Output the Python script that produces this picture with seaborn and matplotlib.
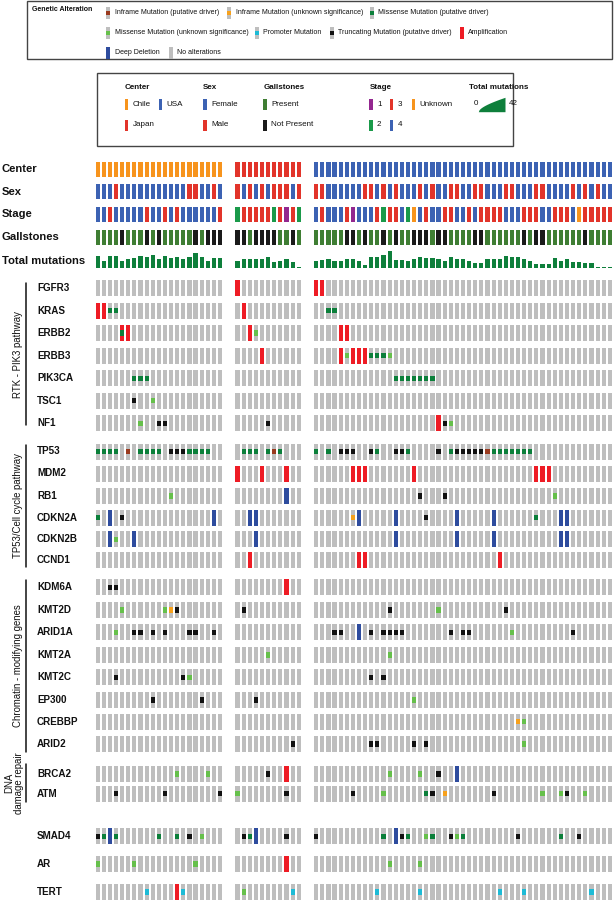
import numpy as np
import pandas as pd
import matplotlib
matplotlib.use("Agg")
import matplotlib.pyplot as plt
from matplotlib.patches import Rectangle
import seaborn as sns

sns.set_theme(style="white")
plt.rcParams["font.family"] = ["Liberation Sans", "DejaVu Sans"]

# ---------------- data ----------------
group_names = ["Chile", "Japan", "USA"]
group_keys = ["C", "J", "U"]
group_sizes = [21, 11, 49]

# clinical tracks (one char per sample)
sex_chile = "FFFMFFFFFFFFFFFMMFFMF"
sex_japan = "MFMFMFMMMFM"
sex_usa = "MMFFFFFFMMFMFMFFFMFMFFMMFFMMFFFMMFFFMMFFFFMFMFMFF"

stage_chile = "443444443443434444443"
stage_japan = "23333323132"
stage_usa = "4344431444323342U43443344343333444333443334U33333"

gall_chile = "PPPPNPPPNPNPPPPPNPNNN"
gall_japan = "NNPNNNNPPNP"
gall_usa = "PPPPPNNPNPPNPNPPNNNPNNPPPPNNPPPPPPNPNNPPPPPPNPPPP"

totmut_chile = [29, 16, 29, 29, 16, 23, 25, 29, 26, 33, 23, 29, 25, 26, 21, 27, 37, 26, 18, 25, 25]
totmut_japan = [16, 21, 23, 22, 23, 28, 14, 16, 22, 14, 2]
totmut_usa = [16, 20, 23, 16, 16, 22, 22, 18, 7, 26, 28, 33, 42, 19, 19, 16, 21, 26, 25, 25,
              22, 16, 26, 23, 23, 16, 13, 13, 21, 21, 21, 31, 27, 27, 22, 18, 10, 10, 10, 24,
              18, 22, 14, 15, 13, 13, 1, 1, 1]

# alterations: token = group letter + sample index + code
# A amplification, D deep deletion, M missense (driver), m missense (VUS),
# T truncating, I inframe (driver), i inframe (VUS), P promoter, X amp + missense
rtk_genes = ["FGFR3", "KRAS", "ERBB2", "ERBB3", "PIK3CA", "TSC1", "NF1"]
rtk_alts = [
    "J0A U0A U1A",
    "C0A C1A C2M C3M J1A U2M U3M",
    "C4X C5A J2A J3m U4A U5A",
    "J4A U4A U5m U6A U7A U8A U9M U10M U11M U12m",
    "C6M C7M C8M U13M U14M U15M U16M U17M U18M U19M",
    "C6T C9m",
    "C7m C10T C11T J5T U20A U21T U22m",
]
cc_genes = ["TP53", "MDM2", "RB1", "CDKN2A", "CDKN2B", "CCND1"]
cc_alts = [
    "C0M C1M C2M C3M C5I C7M C8M C9M C10M C12T C13T C14T C15M C16M C17M C18M "
    "J1M J2M J3M J5M J6I J7M U0M U2M U4T U5T U6T U9T U10M U13T U14T U15M U20T "
    "U22M U23T U24T U25T U26T U27T U28I U29M U30M U31M U32M U33M U34M U35M",
    "J0A J4A J8A U6A U7A U8A U16A U36A U37A U38A",
    "C12m J8D U17T U21T U39m",
    "C0M C2D C4T C19D J2D J3D U6i U7D U13D U18T U23D U29D U36M U40D U41D",
    "C2D C3m C6D J3D U13D U23D U29D U40D U41D",
    "J2A U7A U8A U30A",
]
chrom_genes = ["KDM6A", "KMT2D", "ARID1A", "KMT2A", "KMT2C", "EP300", "CREBBP", "ARID2"]
chrom_alts = [
    "C2T C3T J8A",
    "C4m C11m C12i C13T J1T U12T U20m U31T",
    "C3m C6T C7T C9T C11T C15T C16T C19T U3T U4T U7D U9T U11T U12T U13T U14T "
    "U22T U24T U25T U32m U42T",
    "J5m U12m",
    "C3T C14T C15m U9T U11T",
    "C9T C17T J3T U16m",
    "U33i U34m",
    "J9T U9T U10T U16T U18T U34m",
]
dna_genes = ["BRCA2", "ATM"]
dna_alts = [
    "C13m C18m J5T J8A U12m U17m U20T U23D",
    "C3T C11T C20T J0m J8T U6T U11m U18M U19T U21i U29T U37m U40m U41T U44m",
]
other_genes = ["SMAD4", "AR", "TERT"]
other_alts = [
    "C0T C1M C2D C3M C10M C13M C15T C17m J1T J2M J3D J8T U0T U11M U13D U14T "
    "U15M U18m U19M U22T U23m U24M U33T U40M U43T",
    "C0m C6m C16m J8A U12m U17m",
    "C8P C13A C14P J1m J9P U10P U17P U30P U34P U45P",
]

# ---------------- style / layout ----------------
W, H = 614, 900
PITCH, X0, GAP = 6.117, 97.7, 1.86
BW = 0.68
GRAY = "#BEBEBE"
COL = {"A": "#EE1C25", "D": "#2E4C9E", "M": "#0B7F3A", "m": "#66C04B",
       "T": "#111111", "I": "#9A3A1E", "i": "#F7A11C", "P": "#1DBBD6"}
COMBOS = {"X": "AM"}
CLIN = {"Chile": "#F7941D", "Japan": "#E2342A", "USA": "#3C62B3",
        "F": "#3C62B3", "M": "#E2342A",
        "1": "#93278F", "2": "#1A9A4A", "3": "#E2342A", "4": "#3C62B3", "U": "#F7941D",
        "P": "#3F7E33", "N": "#1A1A1A"}
TMCOL = "#0E7F3B"

offset = {}
xs = []
for g, (key, n) in enumerate(zip(group_keys, group_sizes)):
    offset[key] = len(xs)
    for k in range(n):
        xs.append(len(xs) + g * GAP)
xs = np.array(xs)

fig = plt.figure(figsize=(W / 100, H / 100), dpi=100)
fig.patch.set_facecolor("white")
ax = fig.add_axes([0, 0, 1, 1])
ax.set_xlim(-X0 / PITCH, (W - X0) / PITCH)
ax.set_ylim(H, 0)
ax.axis("off")
ax.patch.set_alpha(0)

axp = fig.add_axes([0, 0, 1, 1])
axp.set_xlim(0, W)
axp.set_ylim(H, 0)
axp.axis("off")
axp.patch.set_alpha(0)


def parse(tokstr):
    out = {}
    for tok in tokstr.split():
        out[offset[tok[0]] + int(tok[1:-1])] = tok[-1]
    return out


GENE_H = 16
SQ_H = 5.4


def draw_gene(yc, alts):
    ax.bar(xs, GENE_H, bottom=yc - GENE_H / 2, width=BW, color=GRAY, linewidth=0)
    for j, code in parse(alts).items():
        for c in COMBOS.get(code, code):
            if c in "AD":
                ax.bar(xs[j], GENE_H, bottom=yc - GENE_H / 2, width=BW, color=COL[c], linewidth=0)
            else:
                ax.bar(xs[j], SQ_H, bottom=yc - SQ_H / 2, width=BW, color=COL[c], linewidth=0)


# clinical tracks
CL_H = 15
center_vals = sum([[nm] * n for nm, n in zip(group_names, group_sizes)], [])
sex_vals = list(sex_chile + sex_japan + sex_usa)
stage_vals = list(stage_chile + stage_japan + stage_usa)
gall_vals = list(gall_chile + gall_japan + gall_usa)
for yc, vals in [(169.2, center_vals), (191.8, sex_vals), (214.2, stage_vals), (237.0, gall_vals)]:
    ax.bar(xs, CL_H, bottom=yc - CL_H / 2, width=BW,
           color=[CLIN[v] for v in vals], linewidth=0)

# total mutations via seaborn
tm = pd.DataFrame({"x": xs, "n": totmut_chile + totmut_japan + totmut_usa})
axtm = fig.add_axes([0, 1 - 267.7 / H, 1, 16.5 / H])
sns.barplot(data=tm, x="x", y="n", native_scale=True, color=TMCOL, saturation=1,
            width=BW, errorbar=None, ax=axtm, linewidth=0)
axtm.set_xlim(-X0 / PITCH, (W - X0) / PITCH)
axtm.set_ylim(0, 42)
axtm.axis("off")
axtm.patch.set_alpha(0)

clin_labels = [("Center", 169.2), ("Sex", 191.8), ("Stage", 214.2),
               ("Gallstones", 237.0), ("Total mutations", 261.0)]
for lab, y in clin_labels:
    axp.text(2, y, lab, fontsize=8.1, fontweight="bold", va="center", ha="left", color="#111")

blocks = [
    (rtk_genes, rtk_alts, [288.3, 310.7, 333.0, 355.7, 378.3, 400.7, 423.3]),
    (cc_genes, cc_alts, [451.5, 473.5, 496.0, 517.7, 539.3, 560.3]),
    (chrom_genes, chrom_alts, [587.3, 610.0, 632.3, 655.0, 677.3, 700.0, 721.7, 744.0]),
    (dna_genes, dna_alts, [774.0, 793.6]),
    (other_genes, other_alts, [836.2, 864.0, 892.0]),
]
for genes, alts, ys in blocks:
    for gname, a, y in zip(genes, alts, ys):
        draw_gene(y, a)
        axp.text(37, y, gname, fontsize=7.1, fontweight="bold", va="center", ha="left", color="#111")

# pathway labels
paths = [("RTK - PIK3 pathway", 283, 425), ("TP53/Cell cycle pathway", 445, 567),
         ("Chromatin - modifying genes", 580, 752), ("DNA\ndamage repair", 764, 802)]
for lab, y0, y1 in paths:
    axp.plot([25.7, 25.7], [y0, y1], color="#111", lw=1.1)
    xx = 18.3 if "\n" not in lab else 14.5
    axp.text(xx, (y0 + y1) / 2, lab, rotation=90, fontsize=6.9, va="center", ha="center",
             color="#111", linespacing=1.0)

# ---------------- legend 1 ----------------
axp.add_patch(Rectangle((27, 1), 585, 58, fill=False, ec="#444", lw=1))
axp.text(31.7, 9.3, "Genetic Alteration", fontsize=5, fontweight="bold", va="center", color="#111")
leg1 = [(108.3, 12.7, "I", "Inframe Mutation (putative driver)"),
        (229.3, 12.7, "i", "Inframe Mutation (unknown significance)"),
        (371.7, 12.7, "M", "Missense Mutation (putative driver)"),
        (108.3, 32.7, "m", "Missense Mutation (unknown significance)"),
        (256.7, 32.7, "P", "Promoter Mutation"),
        (331.7, 32.7, "T", "Truncating Mutation (putative driver)"),
        (461.7, 32.7, "A", "Amplification"),
        (108.3, 52.7, "D", "Deep Deletion"),
        (170.7, 52.7, ".", "No alterations")]
for x, y, c, lab in leg1:
    if c in "AD":
        axp.add_patch(Rectangle((x - 2, y - 6), 4, 12, color=COL[c], lw=0))
    else:
        axp.add_patch(Rectangle((x - 2, y - 6), 4, 12, color=GRAY, lw=0))
        if c != ".":
            axp.add_patch(Rectangle((x - 2, y - 2), 4, 4, color=COL[c], lw=0))
    axp.text(x + 6.7, y, lab, fontsize=5, va="center", ha="left", color="#111")

# ---------------- legend 2 ----------------
axp.add_patch(Rectangle((97, 73), 416, 73, fill=False, ec="#444", lw=1))
for lab, x in [("Center", 125), ("Sex", 203.3), ("Gallstones", 263.3), ("Stage", 370), ("Total mutations", 469)]:
    axp.text(x, 87.7, lab, fontsize=5.8, fontweight="bold", va="center", ha="left", color="#111")
leg2 = [(126.7, 104.3, "Chile", "Chile"), (160.7, 104.3, "USA", "USA"), (126.7, 125, "Japan", "Japan"),
        (205, 104.3, "F", "Female"), (205, 125, "M", "Male"),
        (265, 104.3, "P", "Present"), (265, 125, "N", "Not Present"),
        (371, 104.3, "1", "1"), (391.7, 104.3, "3", "3"), (413.3, 104.3, "U", "Unknown"),
        (371, 125, "2", "2"), (391.7, 125, "4", "4")]
for x, y, c, lab in leg2:
    axp.add_patch(Rectangle((x - 1.7, y - 5.5), 3.4, 11, color=CLIN[c], lw=0))
    axp.text(x + 6, y, lab, fontsize=5.8, va="center", ha="left", color="#111")
axp.text(474, 103.3, "0", fontsize=5.8, va="center", ha="left", color="#111")
wx = np.linspace(478.3, 505, 40)
wtop = 111.7 - 14.4 * np.sqrt((wx - 478.3) / (505 - 478.3)) * 0.75 - 14.4 * 0.25 * ((wx - 478.3) / 26.7)
axp.fill_between(wx, 111.7, wtop, color=TMCOL, lw=0)
axp.text(509.3, 103.3, "42", fontsize=5.8, va="center", ha="left", color="#111")

fig.savefig("out.png", dpi=100, facecolor="white")
